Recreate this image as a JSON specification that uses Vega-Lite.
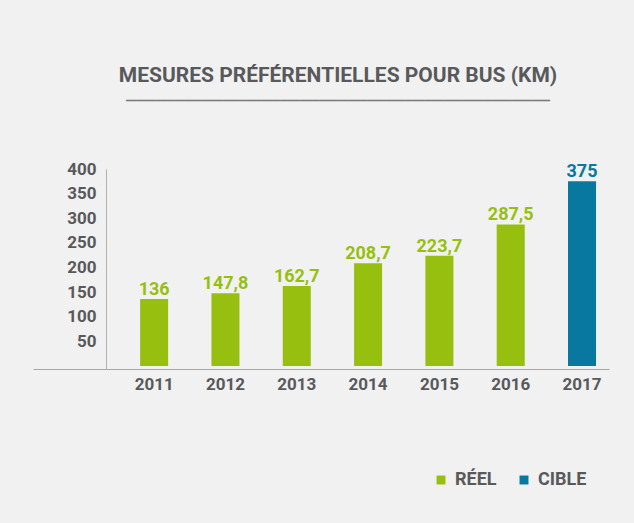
{
  "$schema": "https://vega.github.io/schema/vega-lite/v6.json",
  "autosize": {"type": "none"},
  "width": 576,
  "height": 200,
  "padding": {"left": 33, "top": 169, "right": 25, "bottom": 154},
  "background": "#f1f1f1",
  "title": {
    "text": "MESURES PRÉFÉRENTIELLES POUR BUS (KM)",
    "subtitle": "────────────────────────────────────────────",
    "anchor": "middle",
    "frame": "group",
    "dx": 17,
    "offset": 51,
    "font": "Roboto",
    "fontSize": 21,
    "fontWeight": "bold",
    "color": "#58595b",
    "subtitleFont": "DejaVu Sans Mono",
    "subtitleFontSize": 16,
    "subtitleColor": "#7a7a7a",
    "subtitlePadding": 7
  },
  "data": {
    "values": [
      {"year": "2011", "value": 136, "label": "136", "type": "RÉEL"},
      {"year": "2012", "value": 147.8, "label": "147,8", "type": "RÉEL"},
      {"year": "2013", "value": 162.7, "label": "162,7", "type": "RÉEL"},
      {"year": "2014", "value": 208.7, "label": "208,7", "type": "RÉEL"},
      {"year": "2015", "value": 223.7, "label": "223,7", "type": "RÉEL"},
      {"year": "2016", "value": 287.5, "label": "287,5", "type": "RÉEL"},
      {"year": "2017", "value": 375, "label": "375", "type": "CIBLE"}
    ]
  },
  "encoding": {
    "x": {
      "field": "year",
      "type": "ordinal",
      "scale": {"paddingInner": 0.607, "paddingOuter": 0.842, "align": 0.892},
      "axis": {
        "title": null,
        "labelAngle": 0,
        "ticks": false,
        "labelPadding": 7,
        "labelFont": "Roboto",
        "labelFontSize": 17,
        "labelFontWeight": "bold",
        "labelColor": "#58595b",
        "domainColor": "#a8a8a8",
        "domainWidth": 1
      }
    },
    "y": {
      "field": "value",
      "type": "quantitative",
      "scale": {"domain": [-6, 400], "nice": false, "zero": false},
      "axis": {
        "title": null,
        "values": [50, 100, 150, 200, 250, 300, 350, 400],
        "grid": false,
        "ticks": false,
        "offset": -73,
        "labelPadding": 10,
        "labelFont": "Roboto",
        "labelFontSize": 17,
        "labelFontWeight": "bold",
        "labelColor": "#58595b",
        "domainColor": "#b0b0b0",
        "domainWidth": 1
      }
    },
    "color": {
      "field": "type",
      "type": "nominal",
      "scale": {"domain": ["RÉEL", "CIBLE"], "range": ["#97bf10", "#0878a0"]},
      "legend": {
        "title": null,
        "orient": "none",
        "direction": "horizontal",
        "legendX": 399,
        "legendY": 302,
        "symbolType": "square",
        "symbolSize": 80,
        "symbolStrokeWidth": 0,
        "symbolOpacity": 1,
        "labelFont": "Roboto",
        "labelFontSize": 18,
        "labelFontWeight": "bold",
        "labelColor": "#58595b",
        "labelOffset": 5,
        "columnPadding": 18
      }
    }
  },
  "layer": [
    {
      "mark": {"type": "bar"},
      "encoding": {"y2": {"datum": 0}}
    },
    {
      "mark": {"type": "text", "baseline": "alphabetic", "dy": -4, "font": "Roboto", "fontSize": 18, "fontWeight": "bold"},
      "encoding": {"text": {"field": "label"}}
    }
  ],
  "config": {"view": {"stroke": null}}
}
